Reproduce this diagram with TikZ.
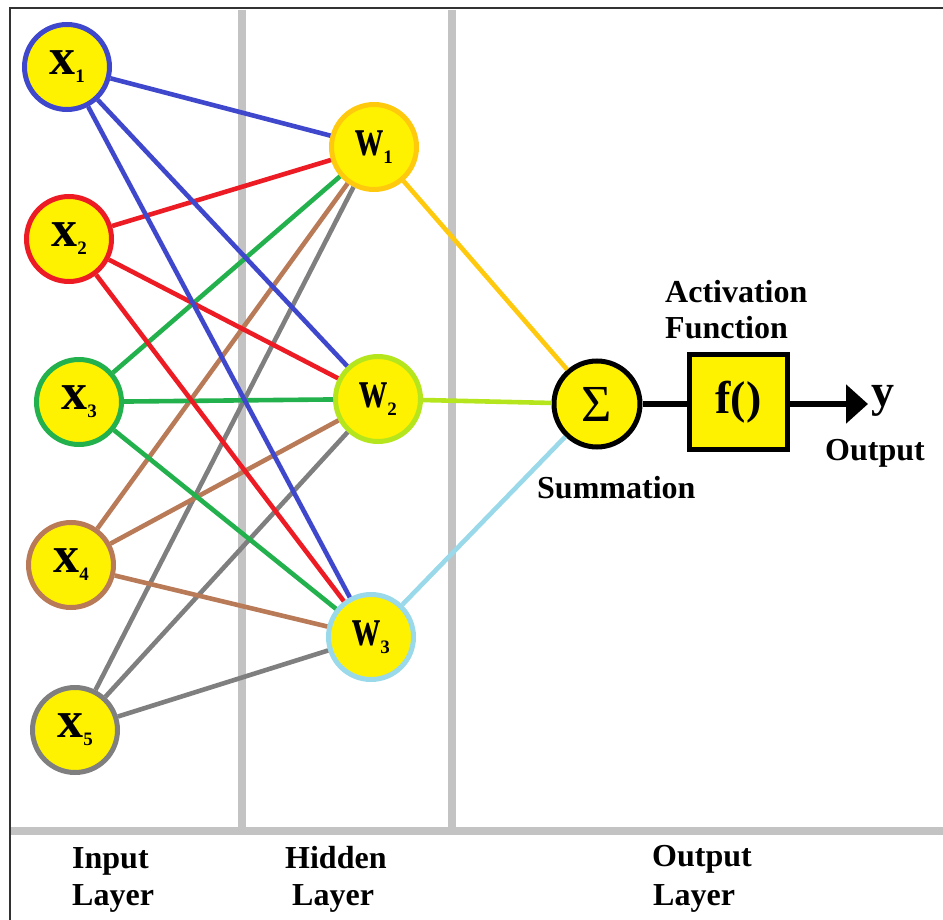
\documentclass[tikz,border=0pt]{standalone}
\usepackage{fontspec}
\setmainfont{Liberation Serif}
\usetikzlibrary{arrows.meta}

\definecolor{nodeyellow}{RGB}{255,242,0}
\definecolor{cblue}{RGB}{63,72,204}
\definecolor{cred}{RGB}{237,28,36}
\definecolor{cgreen}{RGB}{34,177,76}
\definecolor{cbrown}{RGB}{185,122,87}
\definecolor{cgray}{RGB}{127,127,127}
\definecolor{corange}{RGB}{255,201,14}
\definecolor{clime}{RGB}{181,230,29}
\definecolor{clight}{RGB}{153,217,234}
\definecolor{divider}{RGB}{195,195,195}
\definecolor{framecol}{RGB}{50,50,50}

% small lowered index after a node letter
\newcommand\nidx[1]{\raisebox{-8pt}{\fontsize{19}{19}\selectfont\bfseries #1}}

\begin{document}
\begin{tikzpicture}[x=1pt,y=-1pt,
  neuron/.style={circle, draw, line width=5pt, fill=nodeyellow,
    minimum size=85pt, inner sep=0pt,
    font=\fontsize{52}{52}\selectfont\bfseries},
  wneuron/.style={neuron, font=\fontsize{54}{54}\selectfont\bfseries},
  conn/.style={line width=4.6pt},
  lbl/.style={font=\fontsize{32}{36}\selectfont\bfseries, inner sep=0pt, anchor=base west},
  divline/.style={draw=divider, line width=8pt}]

\useasboundingbox (0,0) rectangle (943,920);

% outer frame (top and left edges)
\draw[framecol, line width=2pt] (10,920) -- (10,8) -- (943,8);

% layer dividers
\draw[divline] (242,10) -- (242,831);
\draw[divline] (452,10) -- (452,831);
\draw[divline] (11,831) -- (943,831);

% input layer
\node[neuron, draw=cblue]  (x1) at (67,67)  {x\nidx{1}};
\node[neuron, draw=cred]   (x2) at (69,239) {x\nidx{2}};
\node[neuron, draw=cgreen] (x3) at (79,402) {x\nidx{3}};
\node[neuron, draw=cbrown] (x4) at (71,565) {x\nidx{4}};
\node[neuron, draw=cgray]  (x5) at (75,730) {x\nidx{5}};

% hidden layer
\node[wneuron, draw=corange] (w1) at (374,147) {\scalebox{0.72}[1]{w}\nidx{1}};
\node[wneuron, draw=clime]   (w2) at (378,399) {\scalebox{0.72}[1]{w}\nidx{2}};
\node[wneuron, draw=clight]  (w3) at (371,637) {\scalebox{0.72}[1]{w}\nidx{3}};

% summation and activation
\node[circle, draw, line width=5pt, fill=nodeyellow, minimum size=86pt, inner sep=0pt,
  font=\fontsize{52}{52}\selectfont] (sum) at (597,404) {Σ};
\node[draw, line width=5pt, fill=nodeyellow, minimum width=98pt, minimum height=95pt,
  inner sep=0pt, font=\fontsize{46}{46}\selectfont\bfseries] (act) at (738.5,402) {f()};
\node[anchor=west, inner sep=0pt, font=\fontsize{46}{46}\selectfont\bfseries] (y) at (871,401) {y};

% connections input -> hidden
\foreach \w in {w1,w2,w3}{
  \draw[conn, cblue]  (x1) -- (\w);
  \draw[conn, cred]   (x2) -- (\w);
  \draw[conn, cgreen] (x3) -- (\w);
  \draw[conn, cbrown] (x4) -- (\w);
  \draw[conn, cgray]  (x5) -- (\w);
}

% hidden -> summation
\draw[conn, corange] (w1) -- (sum);
\draw[conn, clime]   (w2) -- (sum);
\draw[conn, clight]  (w3) -- (sum);

% summation -> activation -> output
\draw[line width=5.5pt] (sum) -- (act.west |- sum);
\draw[line width=5.5pt, -{Triangle[length=22pt,width=38pt]}] (act.east |- sum) -- ([xshift=-3pt]y.west |- sum);

% labels
\node[lbl] (lact)  at (665,302) {Activation};
\node[lbl] (lfun)  at (665,338) {Function};
\node[lbl] (lsum)  at (537,498) {Summation};
\node[lbl] (lout)  at (825,460) {Output};

\node[lbl] (lin1)  at (72,868)  {Input};
\node[lbl] (lin2)  at (72,905)  {Layer};
\node[lbl] (lhid1) at (285,868) {Hidden};
\node[lbl] (lhid2) at (292,905) {Layer};
\node[lbl] (lop1)  at (652,866) {Output};
\node[lbl] (lop2)  at (653,905) {Layer};
\end{tikzpicture}
\end{document}
